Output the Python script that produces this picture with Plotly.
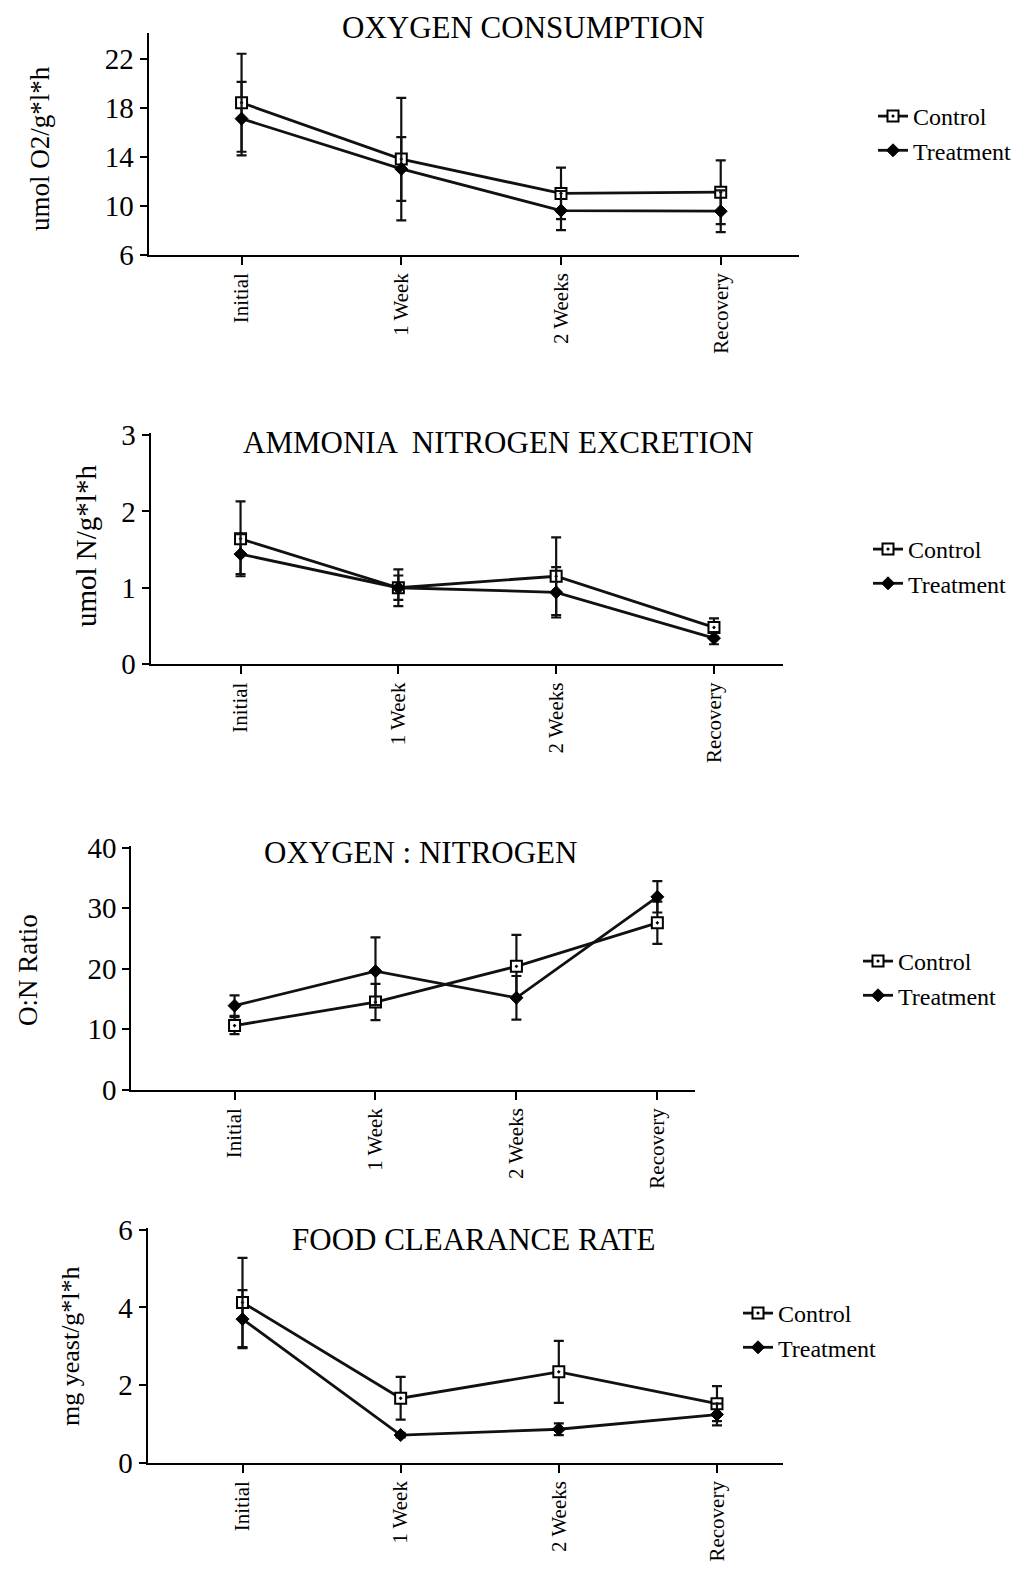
import plotly.graph_objects as go

categories = ["Initial", "1 Week", "2 Weeks", "Recovery"]
xpos = [0, 1, 2, 3]

# Panel 1: Oxygen consumption
o2_control = [18.4, 13.8, 11.0, 11.1]
o2_control_sd = [4.0, 5.0, 2.1, 2.6]
o2_treat = [17.1, 13.0, 9.6, 9.55]
o2_treat_sd = [3.0, 2.6, 1.6, 1.7]

# Panel 2: Ammonia nitrogen excretion
nh_control = [1.64, 1.0, 1.15, 0.48]
nh_control_sd = [0.49, 0.24, 0.51, 0.12]
nh_treat = [1.44, 1.0, 0.94, 0.34]
nh_treat_sd = [0.26, 0.16, 0.33, 0.08]

# Panel 3: O:N ratio
on_control = [10.6, 14.5, 20.4, 27.6]
on_control_sd = [1.4, 3.0, 5.2, 3.5]
on_treat = [13.9, 19.6, 15.2, 31.9]
on_treat_sd = [1.7, 5.6, 3.6, 2.6]

# Panel 4: Food clearance rate
fc_control = [4.13, 1.66, 2.34, 1.52]
fc_control_sd = [1.15, 0.55, 0.8, 0.45]
fc_treat = [3.7, 0.71, 0.86, 1.24]
fc_treat_sd = [0.75, 0.06, 0.15, 0.28]

titles = ["OXYGEN CONSUMPTION", "AMMONIA  NITROGEN EXCRETION", "OXYGEN : NITROGEN", "FOOD CLEARANCE RATE"]
ytitles = ["umol O2/g*l*h", "umol N/g*l*h", "O:N Ratio", "mg yeast/g*l*h"]
yticks = [[6, 10, 14, 18, 22], [0, 1, 2, 3], [0, 10, 20, 30, 40], [0, 2, 4, 6]]
yranges = [[6, 24.06], [0, 3.03], [0, 40.3], [0, 6.05]]
xranges = [[-0.582, 3.487], [-0.57, 3.44], [-0.732, 3.27], [-0.6, 3.42]]

# page is 1029x1585; the html body keeps an 8px margin around the figure
OFF = 8
W, H = 1029 - 2 * OFF, 1585 - 2 * OFF


def fx(px):
    return (px - OFF) / W


def fy(py):
    return 1 - (py - OFF) / H


# pixel boxes (left, right, top, bottom) in page coordinates
boxes = [(148.6, 798.5, 33.4, 254.7),
         (150.6, 783.4, 432.7, 664.1),
         (131.4, 695.4, 846.0, 1089.7),
         (147.6, 783.4, 1228.0, 1462.6)]
title_pos = [(523, 28), (498, 443), (420, 852), (473, 1239)]
ytitle_pos = [(40, 149), (86, 546), (28, 970), (70, 1346)]
ytitle_size = [27, 29, 27, 26]
legend_pos = [(873, 94), (868, 527), (858, 939), (738, 1291)]

FONT = "Liberation Serif"
series = [
    (o2_control, o2_control_sd, o2_treat, o2_treat_sd),
    (nh_control, nh_control_sd, nh_treat, nh_treat_sd),
    (on_control, on_control_sd, on_treat, on_treat_sd),
    (fc_control, fc_control_sd, fc_treat, fc_treat_sd),
]

fig = go.Figure()
layout = dict(width=W, height=H, margin=dict(l=0, r=0, t=0, b=0, autoexpand=False),
              paper_bgcolor="white", plot_bgcolor="white",
              font=dict(family=FONT, color="black", size=20),
              annotations=[])

for i, (c, csd, t, tsd) in enumerate(series):
    n = "" if i == 0 else str(i + 1)
    lg = "legend" if i == 0 else f"legend{i+1}"
    common = dict(x=xpos, xaxis="x" + n, yaxis="y" + n, mode="lines+markers",
                  line=dict(color="#111111", width=2.8), legend=lg)
    fig.add_trace(go.Scatter(y=c, name="Control",
                             error_y=dict(type="data", array=csd, color="#111111", thickness=2.2, width=5),
                             marker=dict(symbol="square-dot", size=11, color="white",
                                         line=dict(color="black", width=2)),
                             **common))
    fig.add_trace(go.Scatter(y=t, name="Treatment",
                             error_y=dict(type="data", array=tsd, color="#111111", thickness=2.2, width=5),
                             marker=dict(symbol="diamond", size=10, color="black",
                                         line=dict(color="black", width=1)),
                             **common))
    l, r, tp, bt = boxes[i]
    layout["xaxis" + n] = dict(domain=[fx(l), fx(r)], range=xranges[i], anchor="y" + n,
                               tickvals=xpos, ticktext=categories, tickangle=-90,
                               showline=True, linecolor="black", linewidth=2.2,
                               ticks="outside", ticklen=8, tickwidth=2, tickcolor="black",
                               showgrid=False, zeroline=False, automargin=False,
                               tickfont=dict(family=FONT, size=21))
    layout["yaxis" + n] = dict(domain=[fy(bt), fy(tp)], range=yranges[i], anchor="x" + n,
                               tickvals=yticks[i], showline=True, linecolor="black", linewidth=2.2,
                               ticks="outside", ticklen=7, tickwidth=2, tickcolor="black",
                               showgrid=False, zeroline=False, automargin=False,
                               tickfont=dict(family=FONT, size=29))
    lx, ly = legend_pos[i]
    layout[lg] = dict(x=fx(lx), y=fy(ly), xanchor="left", yanchor="top",
                      bgcolor="rgba(0,0,0,0)", font=dict(family=FONT, size=24),
                      tracegroupgap=0, itemclick=False)
    tx, ty = title_pos[i]
    layout["annotations"].append(dict(text=titles[i], x=fx(tx), y=fy(ty), xref="paper", yref="paper",
                                      showarrow=False, font=dict(family=FONT, size=31),
                                      xanchor="center", yanchor="middle"))
    yx, yy = ytitle_pos[i]
    layout["annotations"].append(dict(text=ytitles[i], x=fx(yx), y=fy(yy), xref="paper", yref="paper",
                                      showarrow=False, textangle=-90,
                                      font=dict(family=FONT, size=ytitle_size[i]),
                                      xanchor="center", yanchor="middle"))

fig.update_layout(**layout)
fig.write_html("out.html")
